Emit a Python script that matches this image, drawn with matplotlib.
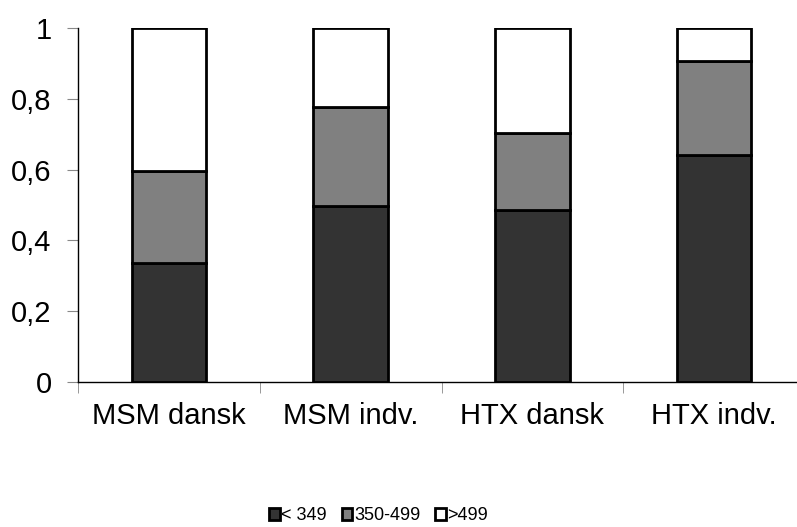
import matplotlib
matplotlib.use("Agg")
import matplotlib.pyplot as plt
import numpy as np

plt.rcParams["font.family"] = ["Liberation Sans", "DejaVu Sans"]

categories = ["MSM dansk", "MSM indv.", "HTX dansk", "HTX indv."]
low = [0.337, 0.498, 0.486, 0.641]      # < 349
mid = [0.259, 0.279, 0.216, 0.265]      # 350-499
high = [0.404, 0.223, 0.298, 0.094]     # >499
series_labels = ["< 349", "350-499", ">499"]
colors = ["#333333", "#808080", "#ffffff"]

fig = plt.figure(figsize=(7.97, 5.27), dpi=100)
ax = fig.add_axes([0.098, 0.275, 0.912, 0.672])

x = np.arange(len(categories))
bottom = np.zeros(len(categories))
for vals, lab, col in zip([low, mid, high], series_labels, colors):
    ax.bar(x, vals, 0.41, bottom=bottom, color=col, edgecolor="black",
           linewidth=2, label=lab, zorder=3)
    bottom += np.array(vals)

ax.set_xlim(-0.5, len(categories) - 0.5)
ax.set_ylim(0, 1)
ax.set_yticks([0, 0.2, 0.4, 0.6, 0.8, 1])
ax.set_yticklabels(["0", "0,2", "0,4", "0,6", "0,8", "1"], fontsize=21)
ax.set_xticks(x)
ax.set_xticklabels(categories, fontsize=21)
ax.tick_params(axis="x", which="major", length=0, pad=14)
ax.set_xticks(np.arange(len(categories)) - 0.5, minor=True)
ax.tick_params(axis="x", which="minor", length=8, color="#888888", direction="out")
ax.tick_params(axis="y", length=8, color="#888888", direction="out", pad=11)

for s in ["top", "right"]:
    ax.spines[s].set_visible(False)
ax.spines["left"].set_linewidth(1)
ax.spines["bottom"].set_linewidth(1)

fig.legend(loc="lower center", bbox_to_anchor=(0.475, -0.026), ncol=3, frameon=False,
           fontsize=13, handlelength=0.6, handleheight=0.6, handletextpad=0.1,
           columnspacing=0.8)

fig.savefig("out.png", dpi=100)
